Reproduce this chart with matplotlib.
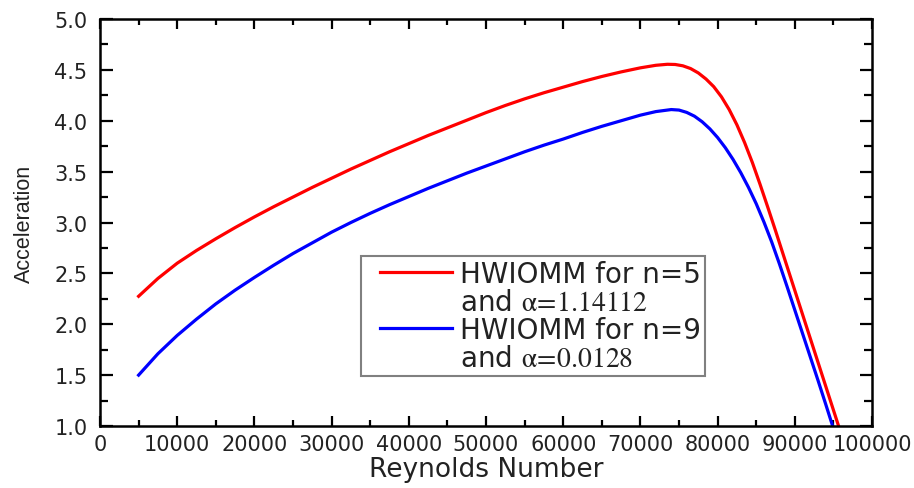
import matplotlib
matplotlib.use("Agg")
import matplotlib.pyplot as plt
from matplotlib.lines import Line2D
from matplotlib.legend_handler import HandlerLine2D
from matplotlib.ticker import MultipleLocator, FormatStrFormatter

# ---- data ----
re_n5 = [5000, 7500, 10000, 12500, 15000, 17500, 20000, 22500, 25000, 27500,
         30000, 32500, 35000, 37500, 40000, 42500, 45000, 47500, 50000, 52500,
         55000, 57500, 60000, 62500, 65000, 67500, 70000, 72000, 73500, 74500,
         75500, 76500, 77500, 78500, 79500, 80500, 81500, 82500, 83500, 84500,
         85500, 86500, 87500, 88500, 89500, 90500, 91500, 92500, 93500, 94500,
         95500, 95670]
acc_n5 = [2.275, 2.45, 2.60, 2.725, 2.84, 2.95, 3.055, 3.155, 3.25, 3.345,
          3.435, 3.525, 3.61, 3.695, 3.775, 3.855, 3.93, 4.005, 4.08, 4.15,
          4.215, 4.275, 4.33, 4.385, 4.435, 4.48, 4.52, 4.545, 4.555, 4.553,
          4.54, 4.513, 4.47, 4.41, 4.335, 4.235, 4.11, 3.96, 3.785, 3.59,
          3.375, 3.15, 2.92, 2.685, 2.45, 2.215, 1.98, 1.745, 1.51, 1.275,
          1.04, 1.00]

re_n9 = [5000, 7500, 10000, 12500, 15000, 17500, 20000, 22500, 25000, 27500,
         30000, 32500, 35000, 37500, 40000, 42500, 45000, 47500, 50000, 52500,
         55000, 57500, 60000, 62500, 65000, 67500, 70000, 72000, 74000, 75000,
         76000, 77000, 78000, 79000, 80000, 81000, 82000, 83000, 84000, 85000,
         86000, 87000, 88000, 89000, 90000, 91000, 92000, 93000, 94000, 94900]
acc_n9 = [1.50, 1.71, 1.89, 2.05, 2.20, 2.335, 2.46, 2.58, 2.695, 2.80,
          2.905, 3.00, 3.09, 3.175, 3.255, 3.335, 3.41, 3.485, 3.555, 3.625,
          3.695, 3.76, 3.82, 3.885, 3.945, 4.00, 4.055, 4.09, 4.11, 4.105,
          4.082, 4.045, 3.99, 3.92, 3.835, 3.735, 3.62, 3.49, 3.345, 3.185,
          3.005, 2.81, 2.595, 2.37, 2.14, 1.91, 1.68, 1.45, 1.215, 1.00]

labels = ["HWIOMM for n=5", r"and $\mathrm{\alpha\!=\!1.14112}$",
          "HWIOMM for n=9", r"and $\mathrm{\alpha\!=\!0.0128}$"]
x_label = "Reynolds Number"
y_label = "Acceleration"

plt.rcParams['mathtext.fontset'] = 'stix'
plt.rcParams['font.family'] = ['DejaVu Sans']

fig = plt.figure(figsize=(9.14, 4.89), dpi=100)
ax = fig.add_axes([100/914, 1-427/489, 772/914, 407/489])

red = '#ff0000'
blue = '#0000ff'
ax.plot(re_n5, acc_n5, color=red, lw=2.3)
ax.plot(re_n9, acc_n9, color=blue, lw=2.3)

ax.set_xlim(0, 100000)
ax.set_ylim(1.0, 5.0)
ax.xaxis.set_major_locator(MultipleLocator(10000))
ax.xaxis.set_minor_locator(MultipleLocator(5000))
ax.yaxis.set_major_locator(MultipleLocator(0.5))
ax.yaxis.set_minor_locator(MultipleLocator(0.25))
ax.yaxis.set_major_formatter(FormatStrFormatter('%.1f'))
ax.xaxis.set_major_formatter(FormatStrFormatter('%d'))

for s in ax.spines.values():
    s.set_linewidth(1.8)
    s.set_color('black')

ax.tick_params(which='both', direction='in', top=True, right=True, width=1.6, colors='black')
ax.tick_params(axis='y', which='major', length=9, pad=9, labelsize=15)
ax.tick_params(axis='y', which='minor', length=5.5)
ax.tick_params(axis='x', which='major', length=7, pad=6, labelsize=15)
ax.tick_params(axis='x', which='minor', length=4)
for lab in ax.get_xticklabels() + ax.get_yticklabels():
    lab.set_color('#222222')

ax.set_xlabel(x_label, fontsize=19, labelpad=1, color='#222222')
ax.set_ylabel(y_label, fontsize=15.5, labelpad=14, color='#222222',
              family='Liberation Sans')

handles = [Line2D([], [], color=red, lw=2.3),
           Line2D([], [], color='none'),
           Line2D([], [], color=blue, lw=2.3),
           Line2D([], [], color='none')]
leg = ax.legend(handles, labels, loc='upper left',
                bbox_to_anchor=(261/772, (427-257)/407), borderaxespad=0,
                fontsize=20, frameon=True, fancybox=False, framealpha=1,
                edgecolor='#808080', handlelength=3.65, handletextpad=-0.245,
                labelspacing=0.0, borderpad=0.15, numpoints=2,
                handler_map={Line2D: HandlerLine2D(marker_pad=0.53, numpoints=2)})
leg.get_frame().set_linewidth(1.5)
for t in leg.get_texts():
    t.set_color('#222222')

fig.savefig('out.png', dpi=100)
